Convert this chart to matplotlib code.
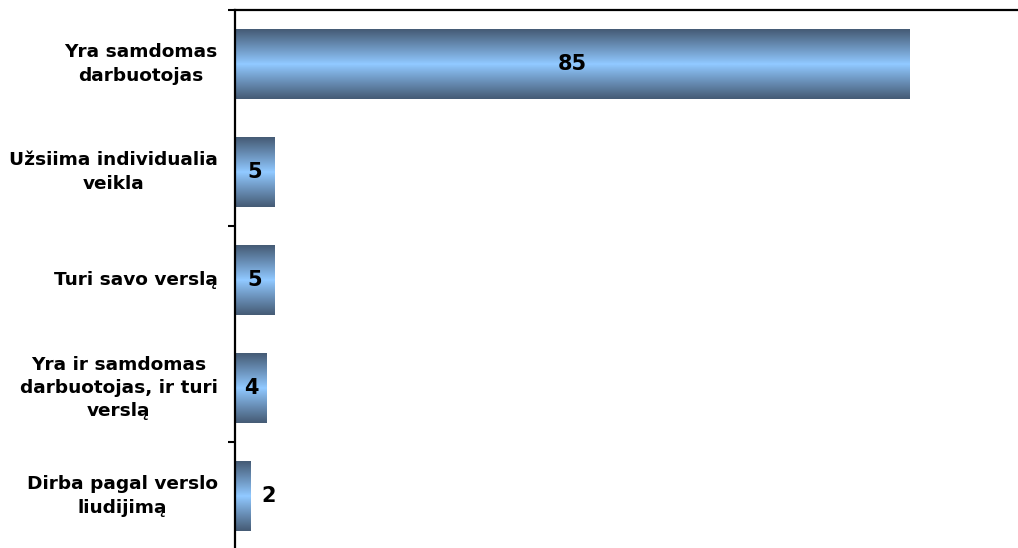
import numpy as np
import matplotlib
matplotlib.use('Agg')
import matplotlib.pyplot as plt
from matplotlib.colors import LinearSegmentedColormap

# data
categories = ['Yra samdomas\ndarbuotojas',
              'Užsiima individualia\nveikla',
              'Turi savo verslą',
              'Yra ir samdomas\ndarbuotojas, ir turi\nverslą',
              'Dirba pagal verslo\nliudijimą']
values = [85, 5, 5, 4, 2]

fig = plt.figure(figsize=(10.18, 5.48), dpi=100)
ax = fig.add_axes([235 / 1018, -2 / 548, 783 / 1018, 540 / 548])

y = np.arange(len(values))
bars = ax.barh(y, values, height=0.64, color='none', edgecolor='none')

# vertical gradient: dark edges, light middle
cmap = LinearSegmentedColormap.from_list('bar', ['#90c8ff', '#465c76'])
t = np.abs(np.linspace(-1, 1, 64)) ** 0.95
grad = t.reshape(-1, 1)
for b in bars:
    x0, y0 = b.get_x(), b.get_y()
    w, h = b.get_width(), b.get_height()
    im = ax.imshow(grad, cmap=cmap, aspect='auto', interpolation='bilinear',
                   extent=[x0, x0 + w, y0 + h, y0], zorder=2)
    im.set_clip_path(b)

ax.set_xlim(0, 98.6)
ax.set_ylim(len(values) - 0.5, -0.5)

# value labels
for yi, v in zip(y, values):
    if v >= 3:
        ax.text(v / 2, yi, str(v), ha='center', va='center',
                fontsize=15, fontweight='bold', zorder=3)
    else:
        ax.text(v + 1.3, yi, str(v), ha='left', va='center',
                fontsize=15, fontweight='bold', zorder=3)

# category labels drawn at the left of the axis
trans = ax.get_yaxis_transform()
for yi, c in zip(y, categories):
    ax.text(-0.022, yi, c, transform=trans, ha='right', va='center',
            multialignment='center', fontsize=13.3, fontweight='bold',
            linespacing=1.38)

ax.set_yticks([-0.5, 1.5, 3.5])
ax.set_yticklabels([])
ax.tick_params(axis='y', which='major', length=5, width=1.5)
ax.set_xticks([])

for s in ['right', 'bottom']:
    ax.spines[s].set_visible(False)
for s in ['left', 'top']:
    ax.spines[s].set_linewidth(1.6)

fig.savefig('out.png', dpi=100)
